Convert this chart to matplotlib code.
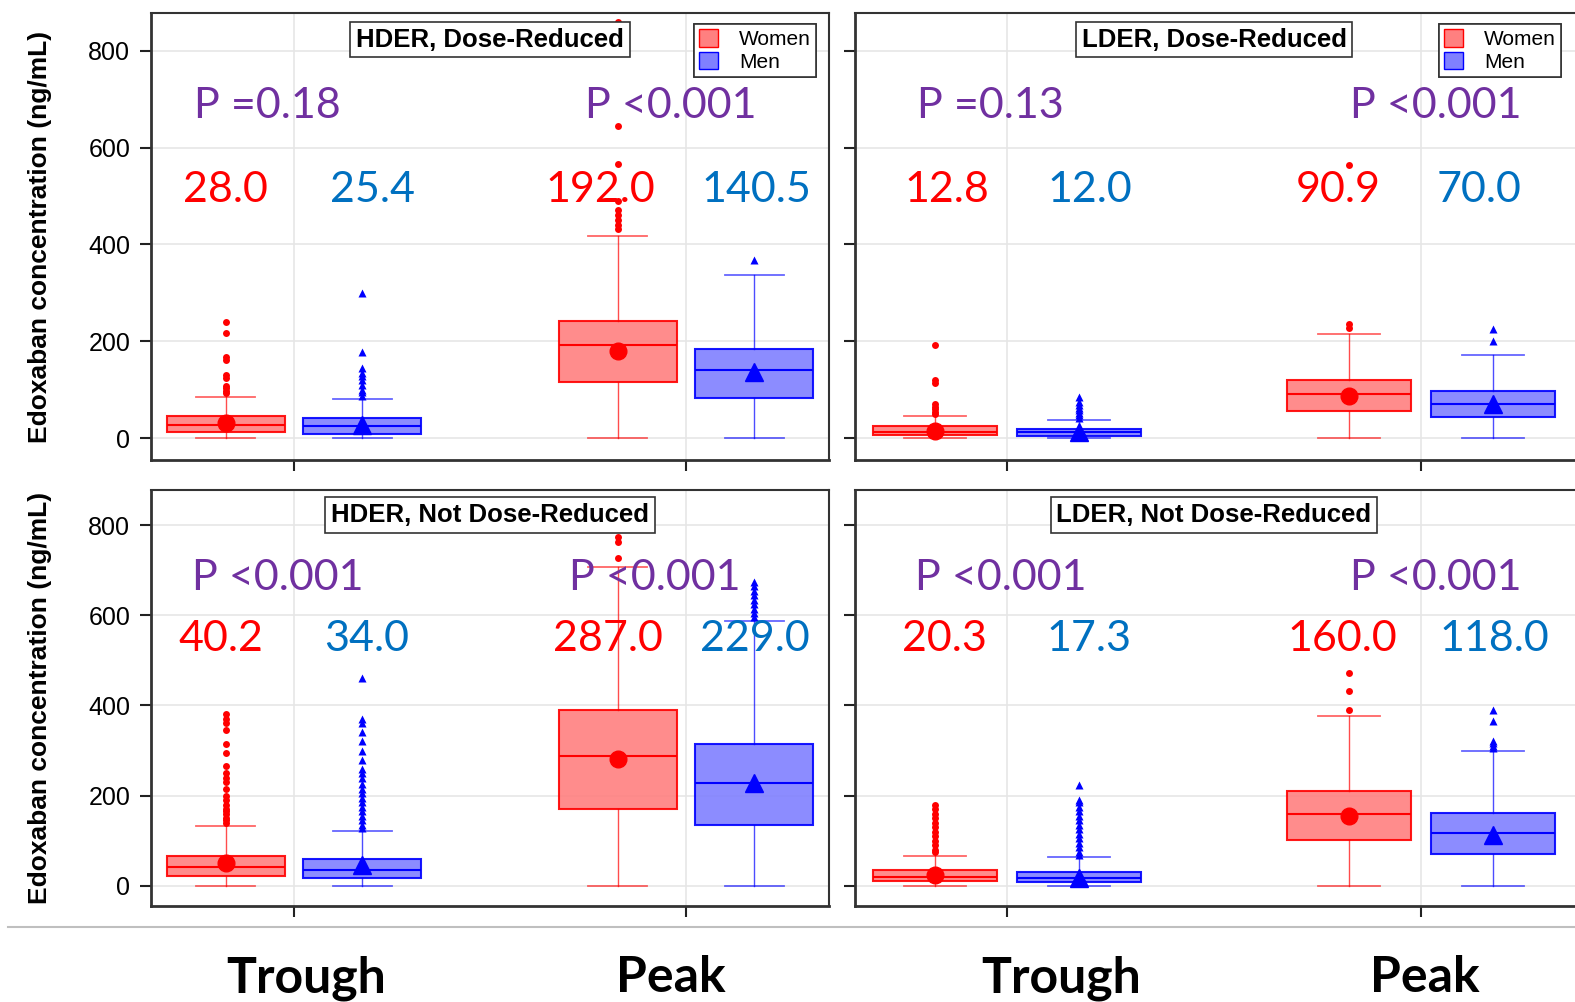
import matplotlib.pyplot as plt
from matplotlib.patches import Patch
from matplotlib.lines import Line2D

# panels: top-left, top-right, bottom-left, bottom-right
panels = ['HDER, Dose-Reduced', 'LDER, Dose-Reduced',
          'HDER, Not Dose-Reduced', 'LDER, Not Dose-Reduced']
p_trough = ['P =0.18', 'P =0.13', 'P <0.001', 'P <0.001']
p_peak = ['P <0.001', 'P <0.001', 'P <0.001', 'P <0.001']
women_labels = [['28.0', '192.0'], ['12.8', '90.9'], ['40.2', '287.0'], ['20.3', '160.0']]
men_labels = [['25.4', '140.5'], ['12.0', '70.0'], ['34.0', '229.0'], ['17.3', '118.0']]
times = ['Trough', 'Peak', 'Trough', 'Peak']

# box stats per panel: [trough, peak]
women_q1 = [[12, 116], [6, 56], [22, 171], [10, 102]]
women_med = [[28, 192], [13, 91], [42, 287], [20, 160]]
women_q3 = [[45, 242], [25, 120], [66, 390], [34, 211]]
women_hi = [[85, 417], [45, 215], [133, 708], [67, 376]]
women_mean = [[32, 180], [14, 87], [50, 282], [23, 154]]
women_fliers = [
    [[93, 97, 103, 108, 124, 130, 161, 167, 217, 240],
     [432, 440, 450, 461, 471, 490, 566, 645, 860]],
    [[50, 55, 60, 65, 70, 115, 120, 192],
     [228, 235, 565]],
    [[140, 145, 150, 160, 165, 170, 180, 190, 200, 215, 230, 240, 250, 265,
      295, 315, 345, 360, 370, 380],
     [727, 763, 774]],
    [[75, 80, 90, 100, 110, 120, 130, 140, 150, 160, 170, 179],
     [390, 432, 471]],
]

men_q1 = [[8, 83], [5, 43], [18, 135], [8, 70]]
men_med = [[25, 140], [12, 70], [34, 229], [17, 118]]
men_q3 = [[41, 184], [20, 97], [60, 315], [30, 161]]
men_hi = [[81, 337], [37, 172], [122, 588], [63, 298]]
men_mean = [[27, 136], [12, 70], [45, 228], [17, 113]]
men_fliers = [
    [[88, 95, 100, 110, 120, 128, 135, 145, 178, 300],
     [368]],
    [[42, 48, 52, 58, 63, 68, 75, 85],
     [200, 225]],
    [[128, 135, 145, 155, 165, 175, 185, 195, 205, 215, 225, 240, 250, 260,
      280, 300, 320, 340, 360, 370, 460],
     [596, 605, 615, 625, 635, 645, 655, 665, 674]],
    [[68, 75, 85, 95, 105, 115, 125, 135, 145, 155, 165, 175, 185, 190, 224],
     [305, 310, 316, 322, 365, 390]],
]

RED = '#FF0000'
BLUE = '#0000FF'
PURPLE = '#7030A0'
NUMBLUE = '#0070C0'

fig = plt.figure(figsize=(15.75, 10.02), dpi=100)
W, H = 1575, 1002
rects = [(151, 13, 829, 460), (855, 13, 1578, 460),
         (151, 490, 829, 906), (855, 490, 1578, 906)]
xlims = [(0.635, 2.365), (0.633, 2.379), (0.635, 2.365), (0.633, 2.379)]
off = 0.174

# annotation placement (x in data units, y in data units)
p_x = [(0.931, 1.962), (0.959, 2.035), (0.959, 1.921), (0.986, 2.035)]
w_x = [(0.826, 1.781), (0.855, 1.80), (0.814, 1.80), (0.848, 1.81)]
m_x = [(1.199, 2.18), (1.20, 2.14), (1.186, 2.176), (1.198, 2.176)]
p_y = [686, 686, 683, 683]
num_y = [512, 512, 547, 547]
time_x = [306, 671, 1061, 1425]


def stats(q1, med, q3, hi, mean, fl):
    return dict(q1=q1, med=med, q3=q3, whislo=0, whishi=hi, mean=mean, fliers=fl)


for i in range(4):
    l, t, r, b = rects[i]
    ax = fig.add_axes([l / W, 1 - b / H, (r - l) / W, (b - t) / H])
    ax.set_xlim(*xlims[i])
    ax.set_ylim(-45, 878)

    for sex, col, face, mk, mms, fms in [
        ('w', RED, '#FF8080', 'o', 12, 5),
        ('m', BLUE, '#8080FF', '^', 13, 5.5)]:
        if sex == 'w':
            st = [stats(women_q1[i][k], women_med[i][k], women_q3[i][k],
                        women_hi[i][k], women_mean[i][k], women_fliers[i][k]) for k in range(2)]
            pos = [1 - off, 2 - off]
        else:
            st = [stats(men_q1[i][k], men_med[i][k], men_q3[i][k],
                        men_hi[i][k], men_mean[i][k], men_fliers[i][k]) for k in range(2)]
            pos = [1 + off, 2 + off]
        ax.bxp(st, positions=pos, widths=0.30, capwidths=0.15, patch_artist=True,
               showmeans=True, manage_ticks=False,
               boxprops=dict(facecolor=face, edgecolor=col, linewidth=1.5, alpha=0.9),
               medianprops=dict(color=col, linewidth=1.5),
               whiskerprops=dict(color=col, linewidth=1, alpha=0.7),
               capprops=dict(color=col, linewidth=1.3, alpha=0.6),
               meanprops=dict(marker=mk, markerfacecolor=col, markeredgecolor=col,
                              markersize=mms),
               flierprops=dict(marker=mk, markerfacecolor=col, markeredgecolor='none',
                               markersize=fms))

    # annotations
    for k in range(2):
        ax.text(p_x[i][k], p_y[i], [p_trough, p_peak][k][i], color=PURPLE, fontsize=31,
                family='Lato', ha='center', va='center')
        ax.text(w_x[i][k], num_y[i], women_labels[i][k], color=RED, fontsize=31,
                family='Lato', ha='center', va='center')
        ax.text(m_x[i][k], num_y[i], men_labels[i][k], color=NUMBLUE, fontsize=31,
                family='Lato', ha='center', va='center')

    ax.text(1.5, 0.94, panels[i], transform=ax.get_xaxis_transform(), fontsize=18.5,
            fontweight='bold', family='Liberation Sans', ha='center', va='center',
            bbox=dict(boxstyle='square,pad=0.22', facecolor='white', edgecolor='#333333',
                      linewidth=1.2))

    lx = 816 if i in (0, 2) else 1561
    leg = ax.legend(handles=[Patch(facecolor='#FF8080', edgecolor=RED, label='Women'),
                             Patch(facecolor='#8080FF', edgecolor=BLUE, label='Men')],
                    loc='upper right',
                    bbox_to_anchor=((lx - l) / (r - l), (b - 24) / (b - t)),
                    borderaxespad=0, fancybox=False, framealpha=1, edgecolor='#333333',
                    prop={'family': 'Liberation Sans', 'size': 15}, handlelength=0.9,
                    handleheight=0.9, handletextpad=1.0, labelspacing=0.15,
                    borderpad=0.25)
    leg.get_frame().set_linewidth(1.2)

    ax.set_xticks([1, 2])
    ax.set_xticklabels([])
    ax.set_yticks([0, 200, 400, 600, 800])
    ax.grid(True, color='#E6E6E6', linewidth=1.2)
    ax.set_axisbelow(True)
    ax.tick_params(direction='out', length=8, width=1.5, color='#222222')
    for s in ax.spines.values():
        s.set_color('#333333')
        s.set_linewidth(1.5)
    ax.spines['left'].set_linewidth(2)
    ax.spines['bottom'].set_linewidth(2)

    if i in (0, 2):
        ax.set_yticklabels(['0', '200', '400', '600', '800'], fontsize=18,
                           family='Liberation Sans')
        ax.tick_params(axis='y', pad=7)
        ax.set_ylabel('Edoxaban concentration (ng/mL)', fontsize=19, fontweight='bold',
                      family='Liberation Sans', labelpad=26)
    else:
        ax.set_yticklabels([])

for k in range(4):
    fig.text(time_x[k] / W, 1 - 978 / H, times[k], fontsize=36, fontweight='bold',
             family='Lato', ha='center', va='center')

fig.add_artist(Line2D([8 / W, 1], [1 - 927 / H, 1 - 927 / H], color='#BFBFBF',
                      linewidth=1.5))

fig.savefig('out.png', dpi=100)
